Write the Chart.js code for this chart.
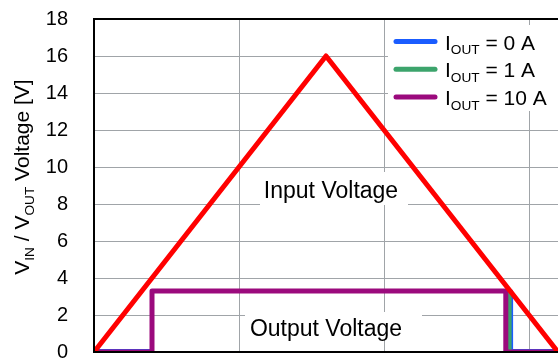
<!DOCTYPE html>
<html>
<head>
<meta charset="utf-8">
<script src="https://cdn.jsdelivr.net/npm/chart.js@4.4.1/dist/chart.umd.min.js"></script>
<style>
  html, body { margin: 0; padding: 0; background: #fff; }
  #wrap { width: 558px; height: 361px; position: relative; }
</style>
</head>
<body>
<div id="wrap"><canvas id="mainCanvas"></canvas></div>
<script>
// values (time in s, voltage in V)
const inputTime = [0, 8, 16];
const inputVolt = [0, 16, 0];

const out0Time = [0, 2, 2, 14.4, 14.4, 16];
const out0Volt = [0.08, 0.08, 3.3, 3.3, 0.08, 0.08];

const out1Time = [0, 2, 2, 14.33, 14.33, 16];
const out1Volt = [0, 0, 3.3, 3.3, 0, 0];

const out10Time = [0, 2, 2, 14.2, 14.2, 16];
const out10Volt = [0, 0, 3.3, 3.3, 0, 0];

const yTicks = [0, 2, 4, 6, 8, 10, 12, 14, 16, 18];

const legendItems = [
  { label: ' = 0 A', color: '#1a5cff' },
  { label: ' = 1 A', color: '#3ca46c' },
  { label: ' = 10 A', color: '#9b0a7d' }
];

function toPoints(xs, ys) {
  return xs.map((x, i) => ({ x, y: ys[i] }));
}

// draws "main" + subscript pieces, returns the end x
function drawSubText(ctx, parts, x, y, size) {
  let cx = x;
  parts.forEach(p => {
    if (p.sub) {
      ctx.font = (size * 0.65) + 'px "Liberation Sans", Arial, sans-serif';
      ctx.fillText(p.t, cx, y + size * 0.22);
    } else {
      ctx.font = size + 'px "Liberation Sans", Arial, sans-serif';
      ctx.fillText(p.t, cx, y);
    }
    cx += ctx.measureText(p.t).width;
  });
  return cx;
}

function measureSubText(ctx, parts, size) {
  let w = 0;
  parts.forEach(p => {
    ctx.font = (p.sub ? size * 0.65 : size) + 'px "Liberation Sans", Arial, sans-serif';
    w += ctx.measureText(p.t).width;
  });
  return w;
}

const decorPlugin = {
  id: 'decor',
  afterDraw(chart) {
    const ctx = chart.ctx;
    const area = chart.chartArea;
    ctx.save();

    // frame top / left / bottom
    ctx.strokeStyle = '#000';
    ctx.lineWidth = 2;
    ctx.beginPath();
    ctx.moveTo(area.right + 2, area.top);
    ctx.lineTo(area.left, area.top);
    ctx.lineTo(area.left, area.bottom);
    ctx.lineTo(area.right + 2, area.bottom);
    ctx.stroke();

    // text labels with white boxes
    ctx.fillStyle = '#fff';
    ctx.fillRect(260, 172, 148, 33);
    ctx.fillRect(245, 312, 177, 28);
    ctx.fillStyle = '#000';
    ctx.textBaseline = 'alphabetic';
    ctx.textAlign = 'center';
    ctx.font = '23px "Liberation Sans", Arial, sans-serif';
    ctx.fillText('Input Voltage', 331, 198);
    ctx.fillText('Output Voltage', 326, 336);

    // legend
    ctx.textAlign = 'left';
    ctx.fillStyle = '#fff';
    ctx.fillRect(388, 25, 170, 86);
    legendItems.forEach((item, i) => {
      const y = 41.5 + i * 27.8;
      ctx.strokeStyle = item.color;
      ctx.lineWidth = 5;
      ctx.lineCap = 'round';
      ctx.beginPath();
      ctx.moveTo(396, y);
      ctx.lineTo(435, y);
      ctx.stroke();
      ctx.fillStyle = '#000';
      drawSubText(ctx, [{ t: 'I' }, { t: 'OUT', sub: true }, { t: item.label }], 445, y + 8, 21);
    });

    // y axis title, rotated
    const parts = [
      { t: 'V' }, { t: 'IN', sub: true }, { t: ' / V' }, { t: 'OUT', sub: true }, { t: ' Voltage [V]' }
    ];
    const w = measureSubText(ctx, parts, 21);
    ctx.translate(29, 177);
    ctx.rotate(-Math.PI / 2);
    ctx.fillStyle = '#000';
    drawSubText(ctx, parts, -w / 2, 0, 21);

    ctx.restore();
  }
};

const ctx = document.getElementById('mainCanvas').getContext('2d');

const lineStyle = { pointRadius: 0, tension: 0, fill: false, borderJoinStyle: 'round' };

new Chart(ctx, {
  type: 'line',
  data: {
    datasets: [
      { ...lineStyle, label: 'Input', data: toPoints(inputTime, inputVolt), borderColor: '#ff0000', borderWidth: 5, order: 0 },
      { ...lineStyle, label: 'IOUT = 10 A', data: toPoints(out10Time, out10Volt), borderColor: '#9b0a7d', borderWidth: 5, order: 1 },
      { ...lineStyle, label: 'IOUT = 1 A', data: toPoints(out1Time, out1Volt), borderColor: '#3ca46c', borderWidth: 4, order: 2 },
      { ...lineStyle, label: 'IOUT = 0 A', data: toPoints(out0Time, out0Volt), borderColor: '#1a5cff', borderWidth: 3, order: 3 }
    ]
  },
  options: {
    responsive: true,
    maintainAspectRatio: false,
    animation: false,
    layout: { padding: { left: 0, right: 0, top: 19, bottom: 0 } },
    plugins: {
      legend: { display: false },
      tooltip: { enabled: false }
    },
    scales: {
      x: {
        type: 'linear',
        min: 0,
        max: 16,
        ticks: { display: false, stepSize: 5 },
        grid: { color: '#a0a4a8', lineWidth: 1, drawTicks: false },
        border: { display: false },
        afterFit(scale) {
          scale.height = 9;
          scale.paddingLeft = 0;
          scale.paddingRight = 0;
        }
      },
      y: {
        min: 0,
        max: 18,
        afterBuildTicks(scale) { scale.ticks = yTicks.map(v => ({ value: v })); },
        ticks: {
          color: '#000',
          padding: 26,
          font: { size: 20, family: '"Liberation Sans", Arial, sans-serif' }
        },
        grid: { color: '#a0a4a8', lineWidth: 1, drawTicks: false },
        border: { display: false },
        afterFit(scale) {
          scale.width = 94;
          scale.paddingTop = 0;
          scale.paddingBottom = 0;
        }
      }
    }
  },
  plugins: [decorPlugin]
});
</script>
</body>
</html>
